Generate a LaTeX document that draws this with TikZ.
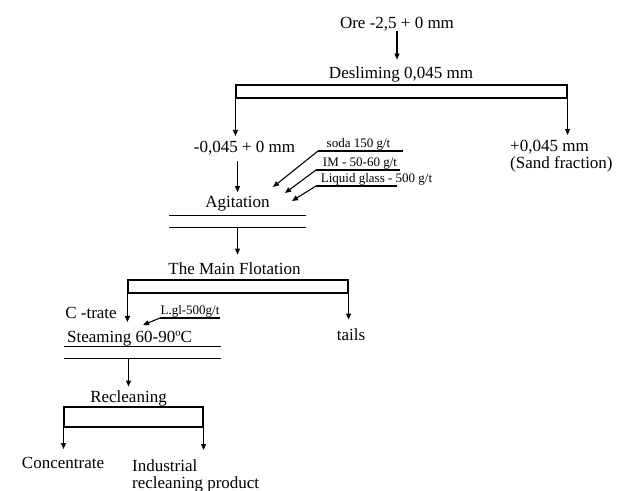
\documentclass[tikz,border=0pt]{standalone}
\usepackage{fontspec}
\setmainfont{Liberation Serif}
\usetikzlibrary{arrows.meta,calc,positioning}
\tikzset{
  stage/.style={font=\fontsize{17}{20}\selectfont,inner sep=0pt,anchor=base},
  stack/.style={font=\fontsize{17}{17}\selectfont,inner sep=0pt,align=left,anchor=north west},
  dose/.style={font=\fontsize{13}{15}\selectfont,inner sep=0pt,anchor=base},
  flow/.style={-{Triangle[length=6pt,width=5pt]},line width=1.1pt},
  splitbar/.style={draw,line width=1.1pt,inner sep=0pt},
  lane/.style={line width=1.1pt}
}

\begin{document}
\begin{tikzpicture}[x=1pt,y=-1pt]
  \useasboundingbox (0,0) rectangle (629,490);
  % Feed and desliming
  \node[stage] (ore) at (397,28.5) {Ore -2,5 + 0 mm};
  \node[stage] (desl) at (401,78.5) {Desliming 0,045 mm};
  \draw[flow,shorten >=7pt] (ore.south) -- (ore.south |- desl.north);
  \node[splitbar,minimum width=331,minimum height=13] (deslbar) at (401.5,91.5) {};
  % Products of desliming
  \node[stage] (fine) at (244.5,152.5) {-0,045 + 0 mm};
  \node[stack] (sand) at (510,140) {+0,045 mm\\(Sand fraction)};
  \draw[flow,shorten >=5pt] (deslbar.north west) -- (deslbar.north west |- fine.north);
  \draw[flow,shorten >=5pt] (deslbar.north east) -- (deslbar.north east |- sand.north);
  % Agitation with reagents
  \node[stage] (agit) at (237.5,207.5) {Agitation};
  \draw[flow,shorten <=6pt,shorten >=4pt] (agit |- fine.south) -- (agit.north);
  \node[minimum width=137,minimum height=11,inner sep=0pt] (agitbar) at (237.5,221.5) {};
  \draw[lane] (agitbar.north west) -- (agitbar.north east);
  \draw[lane] (agitbar.south west) -- (agitbar.south east);
  \node[dose] (soda) at (358.5,147.6) {soda 150 g/t};
  \node[dose] (im) at (360,166.6) {IM - 50-60 g/t};
  \node[dose] (lglass) at (376.5,182.6) {Liquid glass - 500 g/t};
  \coordinate (sodaL) at (318,151);
  \coordinate (sodaR) at (403,151);
  \coordinate (sodaIn) at (273,187);
  \coordinate (imL) at (316,170);
  \coordinate (imR) at (400,170);
  \coordinate (imIn) at (285,193);
  \coordinate (lglassL) at (316,186);
  \coordinate (lglassR) at (397,186);
  \coordinate (lglassIn) at (292,201);
  \draw[lane] (sodaR) -- (sodaL);
  \draw[flow] (sodaL) -- (sodaIn);
  \draw[lane] (imR) -- (imL);
  \draw[flow] (imL) -- (imIn);
  \draw[lane] (lglassR) -- (lglassL);
  \draw[flow] (lglassL) -- (lglassIn);
  % Main flotation
  \node[stage] (flot) at (234.5,274.5) {The Main Flotation};
  \draw[flow,shorten >=8pt] (agitbar.south) -- (agitbar.south |- flot.north);
  \node[splitbar,minimum width=220,minimum height=13] (flotbar) at (238,286.5) {};
  \node[stage] (ctrate) at (91,318.5) {C -trate};
  \node[stage] (tails) at (351,340.5) {tails};
  \node[stage] (steam) at (129.5,342.5) {Steaming 60-90ºC};
  \draw[flow,shorten >=9pt] (flotbar.north west) -- (flotbar.north west |- steam.north);
  \draw[flow,shorten >=9pt] (flotbar.north east) -- (flotbar.north east |- tails.north);
  % Steaming
  \node[dose] (lgl) at (190,314.5) {L.gl-500g/t};
  \coordinate (lglL) at (160,318);
  \coordinate (lglR) at (220,318);
  \coordinate (steamIn) at (143,325);
  \draw[lane] (lglR) -- (lglL);
  \draw[flow] (lglL) -- (steamIn);
  \node[minimum width=157,minimum height=11,inner sep=0pt] (steambar) at (142.5,352.5) {};
  \draw[lane] (steambar.north west) -- (steambar.north east);
  \draw[lane] (steambar.south west) -- (steambar.south east);
  % Recleaning
  \node[stage] (recl) at (128.5,402.5) {Recleaning};
  \draw[flow,shorten >=4pt] (steambar.south -| recl) -- (recl.north);
  \node[splitbar,minimum width=139,minimum height=20] (reclbar) at (133.5,417) {};
  \node[stage] (conc) at (63,468.5) {Concentrate};
  \node[stack] (indust) at (132,459) {Industrial\\recleaning product};
  \draw[flow,shorten >=8pt] (reclbar.north west) -- (reclbar.north west |- conc.north);
  \draw[flow,shorten >=9pt] (reclbar.north east) -- (reclbar.north east |- indust.north);
\end{tikzpicture}
\end{document}
